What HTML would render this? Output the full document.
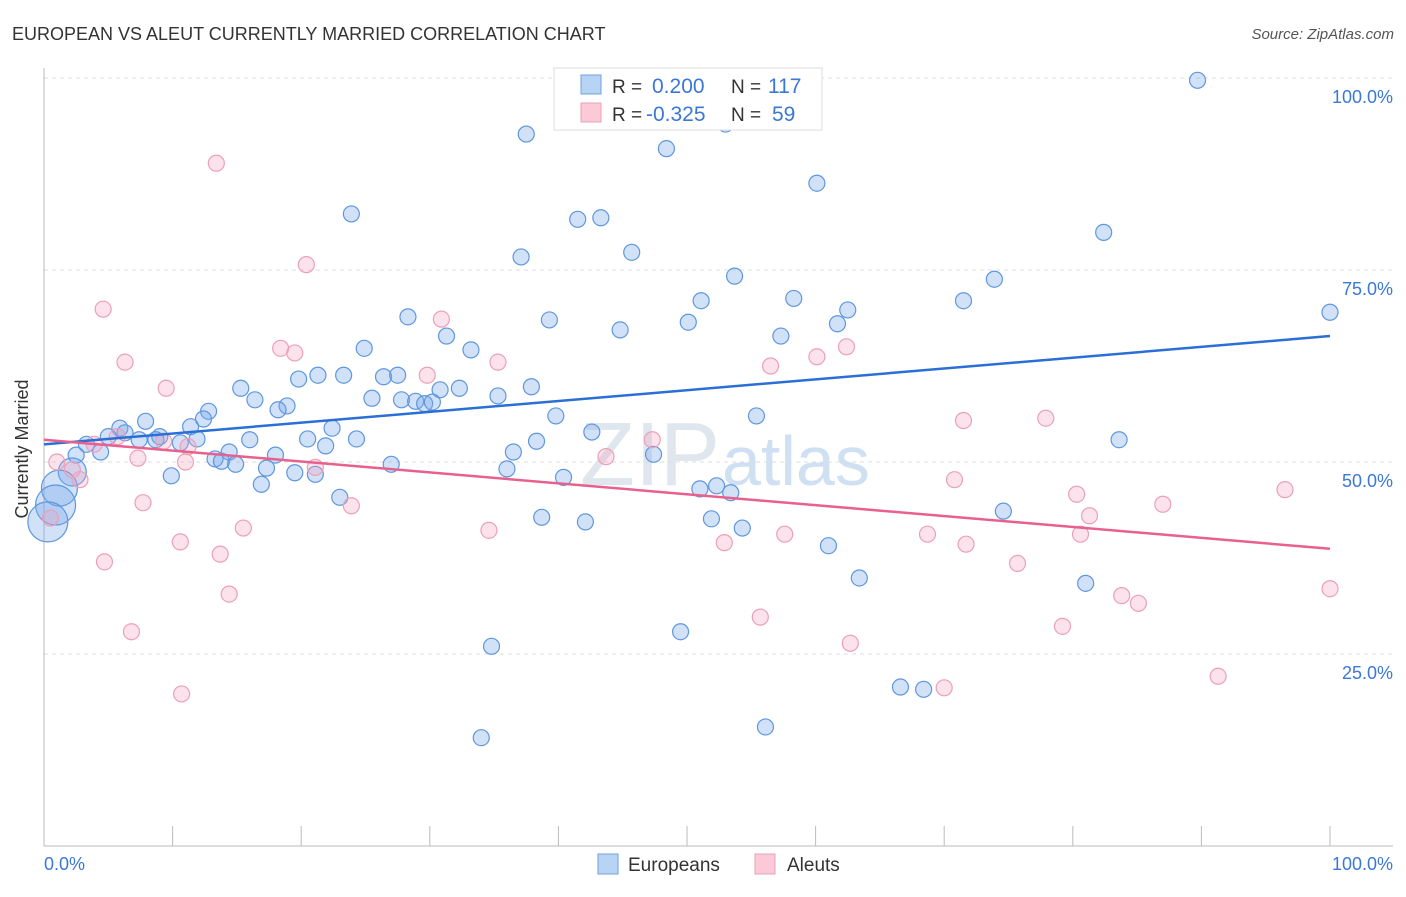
<!DOCTYPE html>
<html><head><meta charset="utf-8"><style>
body{margin:0;background:#fff;font-family:"Liberation Sans",sans-serif}
svg text{font-family:"Liberation Sans",sans-serif}
</style></head><body>
<svg id="c" width="1406" height="892">
<text x="12" y="40" font-size="18" fill="#333">EUROPEAN VS ALEUT CURRENTLY MARRIED CORRELATION CHART</text>
<text x="1394" y="39" font-size="15" fill="#555" text-anchor="end" font-style="italic">Source: ZipAtlas.com</text>
<text x="720" y="485" font-size="90" fill="#dfe6ee" text-anchor="end" font-family="Liberation Serif">ZIP</text>
<text x="722" y="485" font-size="70" fill="#cfe0f3">atlas</text>
<g id="grid"></g><g id="axes"></g><g id="pts"></g><g id="lines"></g>
<text x="34" y="455" font-size="18" fill="#333" text-anchor="middle" transform="rotate(-90 28 455)">Currently Married</text>
<text x="44" y="870" font-size="18" fill="#3a78d8">0.0%</text>
<text x="1393" y="870" font-size="18" fill="#3a78d8" text-anchor="end">100.0%</text>
<g>
<rect x="554" y="68" width="268" height="62" fill="#fff" stroke="#ddd"/>
<rect x="581" y="75" width="20" height="19" fill="#b8d4f5" stroke="#6fa0e0"/>
<rect x="581" y="103" width="20" height="19" fill="#fbc9d8" stroke="#eaa0b8"/>
<text x="612" y="93" font-size="19" fill="#333">R = </text><text x="652" y="93" font-size="21" fill="#3a78d8">0.200</text>
<text x="731" y="93" font-size="19" fill="#333">N = </text><text x="768" y="93" font-size="21" fill="#3a78d8">117</text>
<text x="612" y="121" font-size="19" fill="#333">R = </text><text x="646" y="121" font-size="21" fill="#3a78d8">-0.325</text>
<text x="731" y="121" font-size="19" fill="#333">N = </text><text x="772" y="121" font-size="21" fill="#3a78d8">59</text>
</g>
<g>
<rect x="598" y="854" width="20" height="20" fill="#b8d4f5" stroke="#6fa0e0"/>
<text x="628" y="871" font-size="19" fill="#333">Europeans</text>
<rect x="755" y="854" width="20" height="20" fill="#fbc9d8" stroke="#eaa0b8"/>
<text x="787" y="871" font-size="19" fill="#333">Aleuts</text>
</g>
</svg>
<script>
const yTicks=[25,50,75,100];
const yTickLabels=["25.0%","50.0%","75.0%","100.0%"];
const blueX=[89.7,37.5,53.0,48.4,44.2,48.7,60.1,23.9,41.5,43.3,82.4,37.1,45.7,53.7,73.9,51.1,58.3,71.5,62.5,100,28.3,39.3,50.1,61.7,31.3,44.8,57.3,24.9,33.2,19.8,21.3,23.3,26.4,27.5,15.3,37.9,32.3,30.8,35.3,16.4,18.9,25.5,27.8,28.9,29.6,30.2,18.2,12.8,39.8,55.4,7.9,12.4,5.9,11.4,22.4,42.6,6.3,5.0,9.0,11.9,16.0,20.5,24.3,38.3,83.6,3.3,7.4,8.7,10.6,21.9,4.4,14.4,2.5,36.5,47.4,18.0,13.3,13.8,14.9,27.0,17.3,36.0,9.9,19.5,21.1,40.4,16.9,51.0,52.3,53.4,23.0,74.6,38.7,51.9,42.1,54.3,61.0,81.0,63.4,49.5,34.8,66.6,68.4,56.1,34.0,2.2,1.2,0.9,0.3];
const blueY=[99.7,92.7,94.0,90.8,99.7,99.7,86.3,82.3,81.6,81.8,79.9,76.7,77.3,74.2,73.8,71.0,71.3,71.0,69.8,69.5,68.9,68.5,68.2,68.0,66.4,67.2,66.4,64.8,64.6,60.8,61.3,61.3,61.1,61.3,59.6,59.8,59.6,59.4,58.6,58.1,57.3,58.3,58.1,57.9,57.6,57.8,56.8,56.6,56.0,56.0,55.3,55.6,54.4,54.6,54.4,53.9,53.8,53.3,53.3,53.0,52.9,53.0,53.0,52.7,52.9,52.3,52.9,52.9,52.5,52.1,51.3,51.3,50.9,51.3,51.0,50.9,50.4,50.1,49.7,49.7,49.2,49.1,48.2,48.6,48.4,48.0,47.1,46.5,46.9,46.0,45.4,43.6,42.8,42.6,42.2,41.4,39.1,34.2,34.9,27.9,26.0,20.7,20.4,15.5,14.1,48.7,46.6,44.4,42.2];
const blueR=[8,8,8,8,8,8,8,8,8,8,8,8,8,8,8,8,8,8,8,8,8,8,8,8,8,8,8,8,8,8,8,8,8,8,8,8,8,8,8,8,8,8,8,8,8,8,8,8,8,8,8,8,8,8,8,8,8,8,8,8,8,8,8,8,8,8,8,8,8,8,8,8,8,8,8,8,8,8,8,8,8,8,8,8,8,8,8,8,8,8,8,8,8,8,8,8,8,8,8,8,8,8,8,8,8,14,18,20,20];
const pinkX=[13.4,20.4,4.6,30.9,18.4,19.5,62.4,60.1,35.3,6.3,56.5,29.8,9.5,71.5,77.9,47.3,9.3,11.2,3.9,5.7,7.3,43.7,11.0,21.1,1.0,2.2,2.8,70.8,80.3,96.5,7.7,23.9,87.0,81.3,0.5,34.6,15.5,68.7,57.6,80.6,52.9,71.7,10.6,13.7,4.7,75.7,100,14.4,83.8,85.1,55.7,79.2,6.8,62.7,91.3,10.7,70.0];
const pinkY=[88.9,75.7,69.9,68.6,64.8,64.2,65.0,63.7,63.0,63.0,62.5,61.3,59.6,55.4,55.7,52.9,52.7,52.0,52.3,53.3,50.5,50.7,50.0,49.3,50.0,49.0,47.7,47.7,45.8,46.4,44.7,44.3,44.5,43.0,42.7,41.1,41.4,40.6,40.6,40.6,39.5,39.3,39.6,38.0,37.0,36.8,33.5,32.8,32.6,31.6,29.8,28.6,27.9,26.4,22.1,19.8,20.6];
const blueTrend=[52.3,66.4];
const pinkTrend=[52.9,38.7];
const X=v=>44+v*12.86, Y=v=>846-v*7.68;
const NS='http://www.w3.org/2000/svg';
function mk(tag,attrs,parent){const e=document.createElementNS(NS,tag);for(const k in attrs)e.setAttribute(k,attrs[k]);document.getElementById(parent).appendChild(e);return e;}
yTicks.forEach((t,i)=>{
 const g=mk('line',{x1:44,x2:1393,y1:Y(t),y2:Y(t),stroke:'#ddd','stroke-dasharray':'4,4'},'grid');
 
 
 const l=mk('text',{x:1393,y:Y(t)+25,'font-size':18,fill:'#3a78d8','text-anchor':'end'},'grid');l.textContent=yTickLabels[i];
 
 
});
const ax=mk('line',{x1:44,x2:1393,y1:846,y2:846,stroke:'#bbb'},'axes');


const ay=mk('line',{x1:44,x2:44,y1:68,y2:846,stroke:'#bbb'},'axes');


for(let i=0;i<=10;i++){const t=mk('line',{x1:X(i*10),x2:X(i*10),y1:826,y2:846,stroke:'#bbb'},'axes');
 
 }
blueX.forEach((v,i)=>{const c=mk('circle',{cx:X(v),cy:Y(blueY[i]),r:blueR[i],fill:'rgba(120,170,235,0.35)',stroke:'#5f97de','stroke-width':1.2},'pts');
 
 });
pinkX.forEach((v,i)=>{const c=mk('circle',{cx:X(v),cy:Y(pinkY[i]),r:8,fill:'rgba(245,160,190,0.3)',stroke:'#eba0ba','stroke-width':1.2},'pts');
 
 });
const bl=mk('line',{x1:X(0),x2:X(100),y1:Y(blueTrend[0]),y2:Y(blueTrend[1]),stroke:'#2a6fd6','stroke-width':2.5},'lines');


const pl=mk('line',{x1:X(0),x2:X(100),y1:Y(pinkTrend[0]),y2:Y(pinkTrend[1]),stroke:'#e8608e','stroke-width':2.5},'lines');


</script>
</body></html>
